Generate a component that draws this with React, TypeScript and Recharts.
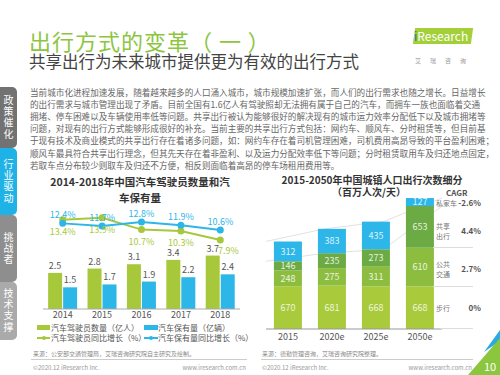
import React from 'react';
import { ComposedChart, Bar, Line, XAxis, YAxis, LabelList } from 'recharts';

const FONT = "'Noto Sans CJK SC', 'Noto Sans', sans-serif";

// 左图：汽车驾驶员数量和汽车保有量
const years = ['2014', '2015', '2016', '2017', '2018'];
const drivers = [2.5, 2.8, 3.1, 3.4, 3.7];
const vehicles = [1.5, 1.7, 1.9, 2.2, 2.4];
const driverGrowth = [13.4, 13.9, 10.7, 10.3, 7.9];
const vehicleGrowth = [12.4, 11.7, 12.8, 11.9, 10.6];

// 右图：城镇人口出行次数细分
const periods = ['2015', '2020e', '2025e', '2050e'];
const walk = [670, 681, 668, 668];
const publicTransit = [248, 275, 311, 610];
const sharedTrip = [146, 235, 273, 653];
const privateCar = [312, 383, 435, 127];

const GREEN = '#a6c83a';
const BLUE = '#2db6e8';
const WALK = '#a8ca3b';
const PUBLIC = '#8dbd3f';
const SHARED = '#6caa44';

const paragraph = [
  '当前城市化进程加速发展，随着越来越多的人口涌入城市，城市规模加速扩张，而人们的出行需求也随之增长。日益增长',
  '的出行需求与城市管理出现了矛盾。目前全国有1.6亿人有驾驶照却无法拥有属于自己的汽车，而拥车一族也面临着交通',
  '拥堵、停车困难以及车辆使用率低等问题。共享出行被认为能够很好的解决现有的城市运力效率分配低下以及城市拥堵等',
  '问题，对现有的出行方式能够形成很好的补充。当前主要的共享出行方式包括：网约车、顺风车、分时租赁等，但目前基',
  '于现有技术及商业模式的共享出行存在着诸多问题，如：网约车存在着司机管理困难，司机费用高昂导致的平台盈利困难；',
  '顺风车最具符合共享出行理念，但其先天存在着非盈利、以及运力分配效率低下等问题；分时租赁取用车及归还地点固定，',
  '若取车点分布较少则取车及归还不方便，相反则面临着高昂的停车场租用费用等。',
];

const tabs = [
  { text: '政策催化', top: 87, height: 61, color: '#727272' },
  { text: '行业驱动', top: 148, height: 67, color: '#1fb2e6' },
  { text: '挑战者', top: 215, height: 67, color: '#8e8e8e' },
  { text: '技术支撑', top: 282, height: 58, color: '#aaaaaa' },
];

const leftData = years.map((y, i) => ({
  year: y,
  drivers: drivers[i],
  vehicles: vehicles[i],
  driverGrowth: driverGrowth[i],
  vehicleGrowth: vehicleGrowth[i],
}));

const rightData = periods.map((p, i) => ({
  period: p,
  walk: walk[i],
  publicTransit: publicTransit[i],
  sharedTrip: sharedTrip[i],
  privateCar: privateCar[i],
  greens: walk[i] + publicTransit[i] + sharedTrip[i],
  total: walk[i] + publicTransit[i] + sharedTrip[i] + privateCar[i],
}));

const abs = (left: number, top: number, extra: React.CSSProperties = {}): React.CSSProperties => ({
  position: 'absolute',
  left,
  top,
  whiteSpace: 'nowrap',
  ...extra,
});

const pct = (v: number) => `${v}%`;

// 驾驶员增速标签放在点下方，最后一个稍微往右错开
const greenLabel = (props: any) => {
  const { x, y, value, index } = props;
  const last = index === years.length - 1;
  return (
    <text
      x={x + (last ? 8 : 0)}
      y={y + (last ? 14 : 15)}
      textAnchor="middle"
      fontSize={9}
      fill={GREEN}
      fontFamily={FONT}
    >
      {value}%
    </text>
  );
};

const rightLabels = [
  { name: ['私家车'], value: '-2.6%', y: 198 },
  { name: ['共享', '出行'], value: '4.4%', y: 221 },
  { name: ['公共', '交通'], value: '2.7%', y: 259 },
  { name: ['步行'], value: '0%', y: 303 },
];

const segLabel = { fontSize: 9, fill: 'rgba(255,255,255,0.85)', fontFamily: FONT };

export default function App() {
  return (
    <div
      style={{
        position: 'fixed',
        left: 0,
        top: 0,
        width: 500,
        height: 375,
        background: '#fff',
        fontFamily: FONT,
        overflow: 'hidden',
      }}
    >
      {/* 标题 */}
      <div style={abs(29, 27, { fontSize: 22, letterSpacing: 1, color: '#8cc63f', lineHeight: '26px' })}>
        出行方式的变革（ 一 ）
      </div>
      <div style={abs(29, 50, { fontSize: 16.5, color: '#444', lineHeight: '22px' })}>
        共享出行为未来城市提供更为有效的出行方式
      </div>

      {/* logo */}
      <div
        style={abs(414, 28, {
          width: 58,
          height: 16,
          background: '#a3cf38',
          transform: 'skewX(-8deg)',
        })}
      />
      <div style={abs(414, 27, { fontSize: 12, color: '#fff', lineHeight: '18px' })}>
        <span style={{ color: '#1f6fb5' }}>i</span>Research
      </div>
      <div style={abs(415, 56, { fontSize: 6, color: '#999', letterSpacing: 9 })}>艾瑞咨询</div>

      {/* 侧边栏 */}
      {tabs.map((t) => (
        <div
          key={t.text}
          style={{
            position: 'absolute',
            left: 0,
            top: t.top,
            width: 17,
            height: t.height,
            background: t.color,
            borderRadius: '0 5px 5px 0',
            color: '#fff',
            display: 'flex',
            alignItems: 'center',
            justifyContent: 'center',
          }}
        >
          <span style={{ writingMode: 'vertical-rl', fontSize: 10, lineHeight: '17px', letterSpacing: 1.3 }}>
            {t.text}
          </span>
        </div>
      ))}

      {/* 正文 */}
      {paragraph.map((line, i) => (
        <div
          key={i}
          style={{
            position: 'absolute',
            left: 30,
            top: 86 + i * 12.1,
            width: 440,
            fontSize: 8.6,
            lineHeight: '12px',
            color: '#666',
            textAlign: 'justify',
            textAlignLast: i < paragraph.length - 1 ? 'justify' : 'left',
            whiteSpace: 'nowrap',
          }}
        >
          {line}
        </div>
      ))}

      {/* 左图标题 */}
      <div
        style={abs(30, 174, {
          width: 220,
          textAlign: 'center',
          fontSize: 10.5,
          fontWeight: 700,
          color: '#333',
          lineHeight: '16px',
          whiteSpace: 'normal',
        })}
      >
        2014-2018年中国汽车驾驶员数量和汽
        <br />
        车保有量
      </div>

      <div style={{ position: 'absolute', left: 20, top: 190 }}>
        <ComposedChart
          width={230}
          height={140}
          data={leftData}
          margin={{ top: 15, right: 10, bottom: 0, left: 23 }}
          barCategoryGap="13%"
          barGap={1}
        >
          <XAxis
            dataKey="year"
            interval={0}
            tickLine={false}
            axisLine={{ stroke: '#aaa' }}
            tick={{ fontSize: 9, fill: '#555', fontFamily: FONT }}
            tickSize={3}
            tickMargin={0}
            height={21}
          />
          <YAxis yAxisId="bar" hide domain={[0, 7.2]} />
          <YAxis yAxisId="line" hide domain={[-10.9, 17.4]} />
          <Bar yAxisId="bar" dataKey="drivers" fill={GREEN} isAnimationActive={false}>
            <LabelList dataKey="drivers" position="top" offset={4} fontSize={9} fill="#555" fontFamily={FONT} />
          </Bar>
          <Bar yAxisId="bar" dataKey="vehicles" fill={BLUE} isAnimationActive={false}>
            <LabelList dataKey="vehicles" position="top" offset={4} fontSize={9} fill="#555" fontFamily={FONT} />
          </Bar>
          <Line
            yAxisId="line"
            dataKey="driverGrowth"
            stroke={GREEN}
            strokeWidth={2}
            dot={{ r: 2.5, fill: GREEN, stroke: GREEN }}
            isAnimationActive={false}
          >
            <LabelList dataKey="driverGrowth" content={greenLabel} />
          </Line>
          <Line
            yAxisId="line"
            dataKey="vehicleGrowth"
            stroke={BLUE}
            strokeWidth={2}
            dot={{ r: 2.5, fill: BLUE, stroke: BLUE }}
            isAnimationActive={false}
          >
            <LabelList
              dataKey="vehicleGrowth"
              position="top"
              offset={5}
              fontSize={9}
              fill={BLUE}
              fontFamily={FONT}
              formatter={pct}
            />
          </Line>
        </ComposedChart>
      </div>

      {/* 左图图例 */}
      <div style={abs(37, 325, { width: 13, height: 5, background: GREEN })} />
      <div style={abs(51, 323, { fontSize: 8, color: '#555', lineHeight: '9px' })}>汽车驾驶员数量（亿人）</div>
      <div style={abs(144, 325, { width: 14, height: 5, background: BLUE })} />
      <div style={abs(158, 323, { fontSize: 8, color: '#555', lineHeight: '9px' })}>汽车保有量（亿辆）</div>
      <div style={abs(37, 337, { width: 13, height: 1.5, background: GREEN })} />
      <div style={abs(41.5, 335.5, { width: 4, height: 4, borderRadius: 2, background: GREEN })} />
      <div style={abs(51, 333, { fontSize: 8, color: '#555', lineHeight: '9px' })}>汽车驾驶员同比增长（%）</div>
      <div style={abs(144, 337, { width: 14, height: 1.5, background: BLUE })} />
      <div style={abs(149, 335.5, { width: 4, height: 4, borderRadius: 2, background: BLUE })} />
      <div style={abs(158, 333, { fontSize: 8, color: '#555', lineHeight: '9px' })}>汽车保有量同比增长（%）</div>

      {/* 右图标题 */}
      <div style={abs(267, 174, { width: 210, textAlign: 'center', fontSize: 10, fontWeight: 700, color: '#333', lineHeight: '12px' })}>
        2015-2050年中国城镇人口出行次数细分
      </div>
      <div style={abs(264, 186, { width: 210, textAlign: 'center', fontSize: 10, fontWeight: 700, color: '#333', lineHeight: '12px' })}>
        （百万人次/天）
      </div>
      <div style={abs(446, 187, { fontSize: 8, fontWeight: 700, color: '#555', lineHeight: '11px' })}>CAGR</div>

      {/* 连接线层（在柱子后面） */}
      <div style={{ position: 'absolute', left: 256, top: 180 }}>
        <ComposedChart
          width={190}
          height={172}
          data={rightData}
          margin={{ top: 9, right: 4, bottom: 0, left: 10 }}
          barCategoryGap="18%"
        >
          <XAxis dataKey="period" tick={false} tickLine={false} axisLine={false} height={23} />
          <YAxis hide domain={[0, 2200]} />
          <Line dataKey="total" stroke="#e2e2e2" strokeWidth={1} dot={false} isAnimationActive={false} />
          <Line dataKey="greens" stroke="#e2e2e2" strokeWidth={1} dot={false} isAnimationActive={false} />
        </ComposedChart>
      </div>

      <div style={{ position: 'absolute', left: 256, top: 180 }}>
        <ComposedChart
          width={190}
          height={172}
          data={rightData}
          margin={{ top: 9, right: 4, bottom: 0, left: 10 }}
          barCategoryGap="18%"
        >
          <XAxis
            dataKey="period"
            interval={0}
            tickLine={false}
            axisLine={{ stroke: '#999' }}
            tick={{ fontSize: 9, fill: '#555', fontFamily: FONT }}
            tickSize={3}
            tickMargin={2}
            height={23}
          />
          <YAxis hide domain={[0, 2200]} />
          <Bar dataKey="walk" stackId="a" fill={WALK} isAnimationActive={false}>
            <LabelList dataKey="walk" position="center" {...segLabel} />
          </Bar>
          <Bar dataKey="publicTransit" stackId="a" fill={PUBLIC} isAnimationActive={false}>
            <LabelList dataKey="publicTransit" position="center" {...segLabel} />
          </Bar>
          <Bar dataKey="sharedTrip" stackId="a" fill={SHARED} isAnimationActive={false}>
            <LabelList dataKey="sharedTrip" position="center" {...segLabel} />
          </Bar>
          <Bar dataKey="privateCar" stackId="a" fill={BLUE} isAnimationActive={false}>
            <LabelList dataKey="privateCar" position="center" {...segLabel} />
          </Bar>
        </ComposedChart>
      </div>

      {/* 右侧说明 */}
      <div style={abs(433, 247, { width: 40, height: 1, background: '#ddd' })} />
      <div style={abs(433, 286, { width: 40, height: 1, background: '#ddd' })} />
      <div style={abs(440, 328, { width: 33, height: 1, background: '#ddd' })} />
      {rightLabels.map((r) => (
        <React.Fragment key={r.value}>
          <div style={abs(436, r.y, { fontSize: 7, color: '#777', lineHeight: '10px' })}>
            {r.name.map((n, i) => (
              <div key={i}>{n}</div>
            ))}
          </div>
          <div
            style={abs(443, r.y + (r.name.length > 1 ? 5 : 0), {
              width: 38,
              textAlign: 'right',
              fontSize: 8,
              fontWeight: 700,
              color: '#555',
              lineHeight: '10px',
            })}
          >
            {r.value}
          </div>
        </React.Fragment>
      ))}

      {/* 页脚 */}
      <div style={abs(33, 349, { fontSize: 6, color: '#888' })}>来源：公安部交通管理局，艾瑞咨询研究院自主研究及绘制。</div>
      <div style={abs(31, 359, { width: 216, height: 1, background: '#ccc' })} />
      <div style={abs(33, 363, { fontSize: 6, color: '#999' })}>©2020.12 iResearch Inc.</div>
      <div style={abs(147, 363, { width: 99, textAlign: 'right', fontSize: 6, color: '#999' })}>www.iresearch.com.cn</div>

      <div style={abs(262, 349, { fontSize: 6, color: '#888' })}>来源：德勤管理咨询，艾瑞咨询研究院整理。</div>
      <div style={abs(261, 359, { width: 212, height: 1, background: '#ccc' })} />
      <div style={abs(262, 363, { fontSize: 6, color: '#999' })}>©2020.12 iResearch Inc.</div>
      <div style={abs(372, 363, { width: 100, textAlign: 'right', fontSize: 6, color: '#999' })}>www.iresearch.com.cn</div>

      {/* 角标 */}
      <svg style={{ position: 'absolute', left: 460, top: 325 }} width={40} height={50}>
        <polygon points="24,27 40,5 40,16" fill="#29abe2" />
        <polygon points="8,50 40,13 40,50" fill="#8cc63f" />
      </svg>
      <div style={abs(484, 360, { fontSize: 11, color: '#fff', lineHeight: '13px' })}>10</div>
    </div>
  );
}
